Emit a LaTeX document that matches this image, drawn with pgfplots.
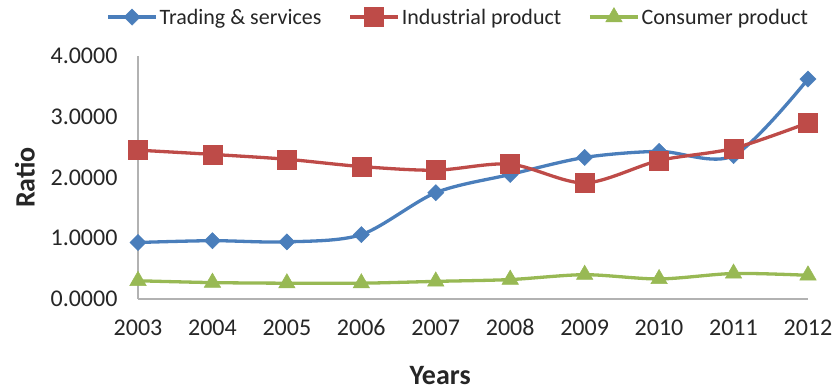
\documentclass[border=0pt]{standalone}
\usepackage{fontspec}
\setmainfont{Carlito}
\usepackage{pgfplots}
\pgfplotsset{compat=1.18}
\definecolor{cblue}{HTML}{4A7EBB}
\definecolor{cred}{HTML}{BE4B48}
\definecolor{cgreen}{HTML}{98B954}
\begin{document}
\begin{tikzpicture}
\begin{axis}[
  scale only axis, width=670pt, height=243pt,
  xmin=2003, xmax=2012, ymin=0, ymax=4,
  axis lines=left,
  axis line style={-, draw=gray!60, line width=1.2pt},
  xtick={2003,2004,...,2012}, ytick={0,1,2,3,4},
  major tick length=0pt,
  /pgf/number format/assume math mode=true,
  tick label style={font=\fontsize{24}{28}\selectfont, text=black!85},
  x tick label style={/pgf/number format/1000 sep={}, yshift=-17pt},
  y tick label style={/pgf/number format/.cd, fixed, fixed zerofill, precision=4, /tikz/.cd, xshift=-17pt},
  xlabel={Years}, ylabel={Ratio},
  label style={font=\fontsize{28}{32}\selectfont\bfseries, text=black!85},
  xlabel style={at={(axis description cs:0.451,-0.313)}, anchor=center},
  ylabel style={at={(axis description cs:-0.169,0.5)}, anchor=center, rotate=0},
  clip=false,
  legend columns=3,
  legend style={at={(axis description cs:0.478,1.16)}, anchor=center, draw=none,
    font=\fontsize{22}{26}\selectfont, text=black!85,
    /tikz/every even column/.append style={column sep=25pt},
    nodes={inner sep=2pt}},
  legend image code/.code={\draw[mark repeat=2,mark phase=2] plot coordinates {(0pt,0pt)(24pt,0pt)(48pt,0pt)};},
  every axis plot/.append style={line width=3.3pt, smooth, tension=0.5},
]
\addplot[cblue, mark=square*, mark size=5.7pt, mark options={rotate=45, line width=0.5pt}] coordinates {
(2003,0.93) (2004,0.96) (2005,0.94) (2006,1.06) (2007,1.75) (2008,2.05) (2009,2.33) (2010,2.43) (2011,2.36) (2012,3.62)};
\addlegendentry{Trading \& services}
\addplot[cred, mark=square*, mark size=9.5pt, mark options={line width=0.5pt}] coordinates {
(2003,2.45) (2004,2.38) (2005,2.30) (2006,2.18) (2007,2.12) (2008,2.22) (2009,1.91) (2010,2.28) (2011,2.48) (2012,2.90)};
\addlegendentry{Industrial product}
\addplot[cgreen, mark=triangle*, mark size=9.5pt, mark options={line width=0.5pt}] coordinates {
(2003,0.30) (2004,0.27) (2005,0.26) (2006,0.26) (2007,0.29) (2008,0.32) (2009,0.40) (2010,0.33) (2011,0.42) (2012,0.39)};
\addlegendentry{Consumer product}
\end{axis}
\pgfresetboundingbox
\path (-138pt,-91pt) rectangle (698pt,299pt);
\end{tikzpicture}
\end{document}
